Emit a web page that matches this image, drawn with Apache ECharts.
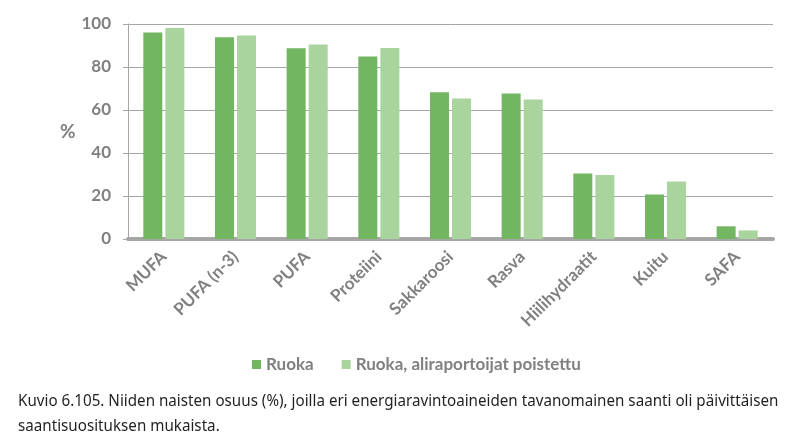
<!DOCTYPE html>
<html>
<head>
<meta charset="utf-8">
<script src="https://cdn.jsdelivr.net/npm/echarts@6/dist/echarts.min.js"></script>
<style>html,body{margin:0;padding:0;background:#fff}#c{width:805px;height:447px}</style>
</head>
<body>
<div id="c"></div>
<script>
const categories = ['MUFA', 'PUFA (n-3)', 'PUFA', 'Proteiini', 'Sakkaroosi', 'Rasva', 'Hiilihydraatit', 'Kuitu', 'SAFA'];
const seriesNames = ['Ruoka', 'Ruoka, aliraportoijat poistettu'];
const ruoka = [96.1, 93.8, 88.7, 84.9, 68.2, 67.7, 30.5, 20.7, 5.9];
const ruokaAli = [98.1, 94.7, 90.5, 88.8, 65.4, 64.9, 29.8, 26.7, 4.0];
const yTicks = [0, 20, 40, 60, 80, 100];
const captionLines = ['Kuvio 6.105. Niiden naisten osuus (%), joilla eri energiaravintoaineiden tavanomainen saanti oli päivittäisen', 'saantisuosituksen mukaista.'];

const chart = echarts.init(document.getElementById('c'));
const gray = '#808080';
chart.setOption({
  animation: false,
  graphic: captionLines.map((t, i) => ({
    type: 'text',
    left: 18, top: 393 + i * 25,
    scaleX: 0.893,
    style: { text: t, font: '17px "Noto Sans"', fill: '#231f20' }
  })),
  legend: {
    data: seriesNames,
    left: 247, top: 351,
    itemWidth: 9, itemHeight: 9, itemGap: 28,
    icon: 'rect',
    textStyle: { fontFamily: 'Lato', fontWeight: 'bold', fontSize: 17, color: gray }
  },
  grid: { left: 128, right: 32, top: 24, bottom: 208, containLabel: false },
  xAxis: {
    type: 'category',
    data: categories,
    axisLine: { lineStyle: { color: '#a6a6a6', width: 4 } },
    axisTick: { show: false },
    axisLabel: { rotate: 45, fontFamily: 'Lato', fontWeight: 'bold', fontSize: 17, color: gray, margin: 15, interval: 0 }
  },
  yAxis: {
    type: 'value',
    min: 0, max: 100, interval: 20,
    name: '%',
    nameLocation: 'middle', nameRotate: 0, nameGap: 52,
    nameTextStyle: { fontFamily: 'Lato', fontWeight: 'bold', fontSize: 19, color: gray },
    axisLine: { show: true, lineStyle: { color: '#a6a6a6', width: 1 } },
    axisTick: { show: true, length: 5, lineStyle: { color: '#a6a6a6' } },
    axisLabel: {
      fontFamily: 'Lato', fontWeight: 'bold', fontSize: 17, color: gray, margin: 17,
      formatter: v => yTicks.includes(v) ? String(v) : ''
    },
    splitLine: { lineStyle: { color: '#a6a6a6', width: 1 } }
  },
  series: [
    { name: seriesNames[0], type: 'bar', data: ruoka, barWidth: 19, barGap: '16%', itemStyle: { color: '#72b662' } },
    { name: seriesNames[1], type: 'bar', data: ruokaAli, barWidth: 19, itemStyle: { color: '#a9d49e' } }
  ]
});
</script>
</body>
</html>
